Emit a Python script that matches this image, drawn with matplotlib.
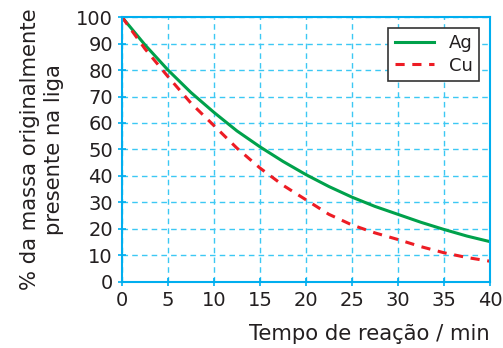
import matplotlib
matplotlib.use("Agg")
import matplotlib.pyplot as plt

# tempo (min) e % de massa restante
tempo = [0, 2.5, 5, 7.5, 10, 12.5, 15, 17.5, 20, 22.5, 25, 27.5, 30, 32.5, 35, 37.5, 40]
ag = [100, 89.5, 80, 71.5, 64, 57, 51, 45.5, 40.5, 36, 32, 28.5, 25.5, 22.5, 19.8, 17.3, 15.2]
cu = [100, 88, 77.5, 67.5, 59, 50.5, 43, 36.5, 31, 25.5, 21.5, 18.5, 16, 13.3, 11, 9.2, 7.8]

x_ticks = [0, 5, 10, 15, 20, 25, 30, 35, 40]
y_ticks = [0, 10, 20, 30, 40, 50, 60, 70, 80, 90, 100]

AXIS_BLUE = "#00aeef"
GRID_BLUE = "#3cc8f4"
TEXT = "#231f20"

fig = plt.figure(figsize=(5.03, 3.48), dpi=100)
ax = fig.add_axes([0.2425, 0.19, 0.7315, 0.761])

ax.plot(tempo, ag, color="#00a14b", lw=2.2, label="Ag")
ax.plot(tempo, cu, color="#ed1c24", lw=2.2, ls=(0, (3, 2.5)), label="Cu")

ax.set_xlim(0, 40)
ax.set_ylim(0, 100)
ax.set_xticks(x_ticks)
ax.set_yticks(y_ticks)
ax.grid(True, color=GRID_BLUE, ls=(0, (4, 3)), lw=1.0)
ax.set_axisbelow(True)

for s in ax.spines.values():
    s.set_color(AXIS_BLUE)
    s.set_linewidth(1.5)
ax.tick_params(colors=AXIS_BLUE, labelcolor=TEXT, labelsize=14, length=6, width=1.2, direction="inout")

ax.set_ylabel("% da massa originalmente\npresente na liga", fontsize=15.2, color=TEXT, linespacing=1.2, labelpad=9)
ax.set_xlabel("Tempo de reação / min", fontsize=15.2, color=TEXT, loc="right", labelpad=10)

leg = ax.legend(loc="upper right", fontsize=13, frameon=True, fancybox=False,
                edgecolor="#333333", framealpha=1, handlelength=2.2,
                borderaxespad=0.6, labelspacing=0.25, borderpad=0.35)
leg.get_frame().set_linewidth(1.2)
for t in leg.get_texts():
    t.set_color(TEXT)

fig.savefig("out.png", dpi=100)
